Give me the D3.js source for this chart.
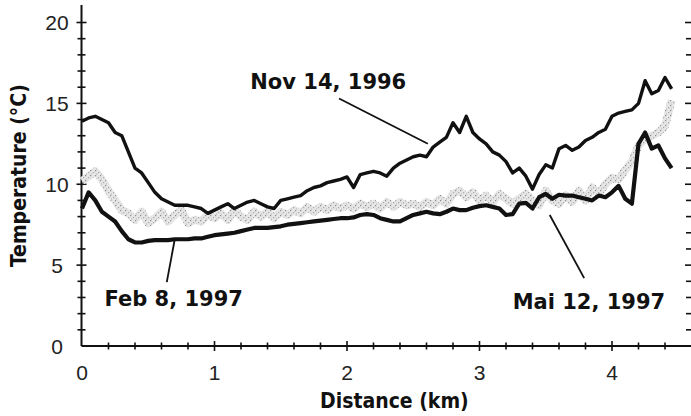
<!DOCTYPE html>
<html>
<head>
<meta charset="utf-8">
<script src="https://cdn.jsdelivr.net/npm/d3@7"></script>
<style>
  body { margin: 0; background: #fff; }
  svg { display: block; }
  .tick-label { font-family: "Liberation Sans", Arial, sans-serif; font-size: 21px; fill: #222; }
  .axis-title { font-family: "DejaVu Sans Condensed", "DejaVu Sans", sans-serif; font-weight: bold; font-size: 21px; fill: #111; }
  .note { font-family: "DejaVu Sans", sans-serif; font-weight: bold; font-size: 21px; fill: #111; }
</style>
</head>
<body>
<div id="chart"></div>
<script>
// distance along the profile (km)
var distance = [0, 0.05, 0.1, 0.15, 0.2, 0.25, 0.3, 0.35, 0.4, 0.45,
  0.5, 0.55, 0.6, 0.65, 0.7, 0.75, 0.8, 0.85, 0.9, 0.95,
  1, 1.05, 1.1, 1.15, 1.2, 1.25, 1.3, 1.35, 1.4, 1.45,
  1.5, 1.55, 1.6, 1.65, 1.7, 1.75, 1.8, 1.85, 1.9, 1.95,
  2, 2.05, 2.1, 2.15, 2.2, 2.25, 2.3, 2.35, 2.4, 2.45,
  2.5, 2.55, 2.6, 2.65, 2.7, 2.75, 2.8, 2.85, 2.9, 2.95,
  3, 3.05, 3.1, 3.15, 3.2, 3.25, 3.3, 3.35, 3.4, 3.45,
  3.5, 3.55, 3.6, 3.65, 3.7, 3.75, 3.8, 3.85, 3.9, 3.95,
  4, 4.05, 4.1, 4.15, 4.2, 4.25, 4.3, 4.35, 4.4, 4.45];

// temperature (°C)
var nov1996 = [13.9, 14.1, 14.2, 14.0, 13.8, 13.2, 13.0, 12.0, 11.0, 10.7,
  10.1, 9.5, 9.1, 8.9, 8.7, 8.7, 8.7, 8.6, 8.5, 8.2,
  8.4, 8.6, 8.8, 8.5, 8.7, 8.9, 9.0, 8.8, 8.6, 8.5,
  9.0, 9.1, 9.2, 9.3, 9.6, 9.8, 9.9, 10.1, 10.2, 10.3,
  10.45, 9.8, 10.6, 10.7, 10.8, 10.7, 10.5, 11.0, 11.3, 11.5,
  11.7, 11.8, 11.7, 12.3, 12.6, 12.9, 13.8, 13.2, 14.2, 13.2,
  12.8, 12.5, 12.0, 11.8, 11.4, 10.7, 11.0, 10.5, 9.7, 10.6,
  11.2, 11.0, 12.2, 12.4, 12.1, 12.3, 12.7, 12.9, 13.2, 13.4,
  14.2, 14.4, 14.5, 14.6, 15.0, 16.4, 15.6, 15.8, 16.6, 15.9];

var feb1997 = [8.5, 9.5, 9.0, 8.3, 8.0, 7.7, 7.1, 6.6, 6.4, 6.4,
  6.5, 6.55, 6.55, 6.55, 6.6, 6.6, 6.6, 6.65, 6.65, 6.75,
  6.85, 6.9, 6.95, 7.0, 7.1, 7.2, 7.3, 7.3, 7.3, 7.35,
  7.4, 7.5, 7.55, 7.6, 7.65, 7.7, 7.75, 7.8, 7.85, 7.9,
  7.9, 7.95, 8.1, 8.15, 8.1, 7.9, 7.8, 7.7, 7.7, 7.9,
  8.1, 8.2, 8.3, 8.2, 8.15, 8.3, 8.5, 8.4, 8.4, 8.55,
  8.65, 8.7, 8.6, 8.5, 8.1, 8.15, 8.8, 8.85, 8.5, 9.2,
  9.4, 9.1, 9.35, 9.3, 9.3, 9.2, 9.1, 9.0, 9.3, 9.2,
  9.5, 9.9, 9.1, 8.8, 12.5, 13.2, 12.2, 12.4, 11.6, 11.0];

var mai1997 = [10.2, 10.5, 10.8, 10.3, 9.6, 9.0, 8.4, 8.2, 7.8, 8.3,
  7.6, 7.9, 8.3, 7.7, 8.1, 8.4, 7.6, 7.8, 7.7, 8.1,
  7.9, 8.2, 7.8, 8.4, 8.0, 7.8, 8.3, 8.0, 8.3, 7.9,
  8.3, 8.1, 8.4, 8.2, 8.6, 8.3, 8.6, 8.4, 8.7, 8.5,
  8.7, 8.5, 8.8, 8.6, 8.8, 8.5, 8.9, 8.6, 8.9, 8.7,
  8.8, 8.6, 8.9, 8.7, 9.1, 8.8, 9.4, 9.6, 9.2, 9.5,
  9.0, 9.3, 8.9, 9.4, 9.1, 8.8, 9.1, 9.4, 9.0, 8.7,
  9.6, 9.0, 8.8, 9.3, 8.9, 9.6, 9.0, 9.8, 9.4, 10.0,
  10.4, 10.3, 10.9, 11.4, 12.4, 12.8, 13.0, 13.2, 13.6, 15.2];

var xTicks = [0, 1, 2, 3, 4];
var yTicks = [0, 5, 10, 15, 20];

// labels: text, anchor point (km, °C), leader from/to (km, °C)
var noteText = ["Nov 14, 1996", "Feb 8, 1997", "Mai 12, 1997"];
var notePos = [[1.27, 15.9], [0.17, 2.5], [3.25, 2.3]];
var leaderFrom = [[1.94, 15.3], [0.70, 6.6], [3.53, 8.1]];
var leaderTo = [[2.61, 12.5], [0.64, 3.95], [3.79, 4.2]];

var svgWidth = 691, svgHeight = 416;

var svg = d3.select("#chart")
  .append("svg")
  .attr("width", svgWidth)
  .attr("height", svgHeight);

var xScale = d3.scaleLinear().domain([0, 4]).range([82, 612]);
var yScale = d3.scaleLinear().domain([0, 20]).range([346, 22.5]);

// speckled fill for the grey trace
var defs = svg.append("defs");
var pat = defs.append("pattern")
  .attr("id", "stip")
  .attr("width", 5).attr("height", 5)
  .attr("patternUnits", "userSpaceOnUse");
pat.append("rect").attr("width", 5).attr("height", 5).attr("fill", "#e6e6e6");
pat.append("rect").attr("x", 0).attr("y", 0).attr("width", 1.2).attr("height", 1.2).attr("fill", "#8c8c8c");
pat.append("rect").attr("x", 3).attr("y", 2).attr("width", 1.2).attr("height", 1.2).attr("fill", "#a8a8a8");
pat.append("rect").attr("x", 1).attr("y", 3.5).attr("width", 1).attr("height", 1).attr("fill", "#b5b5b5");

// axes
var axisColor = "#111";
var leftX = xScale(0) - 0.5;
var baseY = yScale(0);

svg.append("line")
  .attr("x1", leftX).attr("x2", leftX)
  .attr("y1", 5).attr("y2", baseY)
  .attr("stroke", axisColor).attr("stroke-width", 2);

svg.append("line")
  .attr("x1", leftX).attr("x2", svgWidth)
  .attr("y1", baseY).attr("y2", baseY)
  .attr("stroke", axisColor).attr("stroke-width", 2);

// y ticks every 1 °C, crossing the axis
svg.append("g").selectAll("line")
  .data(d3.range(1, 21))
  .enter().append("line")
  .attr("x1", d => leftX - (d % 5 === 0 ? 5 : 4))
  .attr("x2", d => leftX + (d % 5 === 0 ? 5 : 4))
  .attr("y1", d => yScale(d)).attr("y2", d => yScale(d))
  .attr("stroke", axisColor).attr("stroke-width", 1.6);

// right-hand ticks
svg.append("g").selectAll("line")
  .data(d3.range(1, 21))
  .enter().append("line")
  .attr("x1", d => svgWidth - (d % 5 === 0 ? 6 : 5))
  .attr("x2", svgWidth)
  .attr("y1", d => yScale(d)).attr("y2", d => yScale(d))
  .attr("stroke", axisColor).attr("stroke-width", 1.6);

// x ticks every 0.2 km
svg.append("g").selectAll("line")
  .data(d3.range(1, 23))
  .enter().append("line")
  .attr("x1", d => xScale(d / 5)).attr("x2", d => xScale(d / 5))
  .attr("y1", d => baseY - (d % 5 === 0 ? 5 : 3.5))
  .attr("y2", d => baseY + (d % 5 === 0 ? 5 : 3.5))
  .attr("stroke", axisColor).attr("stroke-width", 1.6);

svg.append("g").selectAll("text")
  .data(yTicks)
  .enter().append("text")
  .attr("class", "tick-label")
  .attr("x", 57)
  .attr("y", d => yScale(d))
  .attr("dy", "0.36em")
  .attr("text-anchor", "middle")
  .text(d => d);

svg.append("g").selectAll("text")
  .data(xTicks)
  .enter().append("text")
  .attr("class", "tick-label")
  .attr("x", d => xScale(d))
  .attr("y", baseY + 34)
  .attr("text-anchor", "middle")
  .text(d => d);

svg.append("text")
  .attr("class", "axis-title")
  .attr("x", 320).attr("y", 408)
  .text("Distance (km)");

svg.append("text")
  .attr("class", "axis-title")
  .attr("transform", "translate(26,267) rotate(-90)")
  .text("Temperature (°C)");

// traces
var line = d3.line()
  .x((d, i) => xScale(distance[i]))
  .y(d => yScale(d));

svg.append("path")
  .datum(mai1997)
  .attr("fill", "none")
  .attr("stroke", "url(#stip)")
  .attr("stroke-width", 8)
  .attr("stroke-linejoin", "round")
  .attr("d", line);

svg.append("path")
  .datum(nov1996)
  .attr("fill", "none")
  .attr("stroke", "#111")
  .attr("stroke-width", 3.4)
  .attr("stroke-linejoin", "round")
  .attr("d", line);

svg.append("path")
  .datum(feb1997)
  .attr("fill", "none")
  .attr("stroke", "#111")
  .attr("stroke-width", 4.2)
  .attr("stroke-linejoin", "round")
  .attr("d", line);

// annotations
noteText.forEach(function(t, i) {
  svg.append("line")
    .attr("x1", xScale(leaderFrom[i][0])).attr("y1", yScale(leaderFrom[i][1]))
    .attr("x2", xScale(leaderTo[i][0])).attr("y2", yScale(leaderTo[i][1]))
    .attr("stroke", "#111").attr("stroke-width", 1.8);

  svg.append("text")
    .attr("class", "note")
    .attr("x", xScale(notePos[i][0]))
    .attr("y", yScale(notePos[i][1]))
    .text(t);
});
</script>
</body>
</html>
